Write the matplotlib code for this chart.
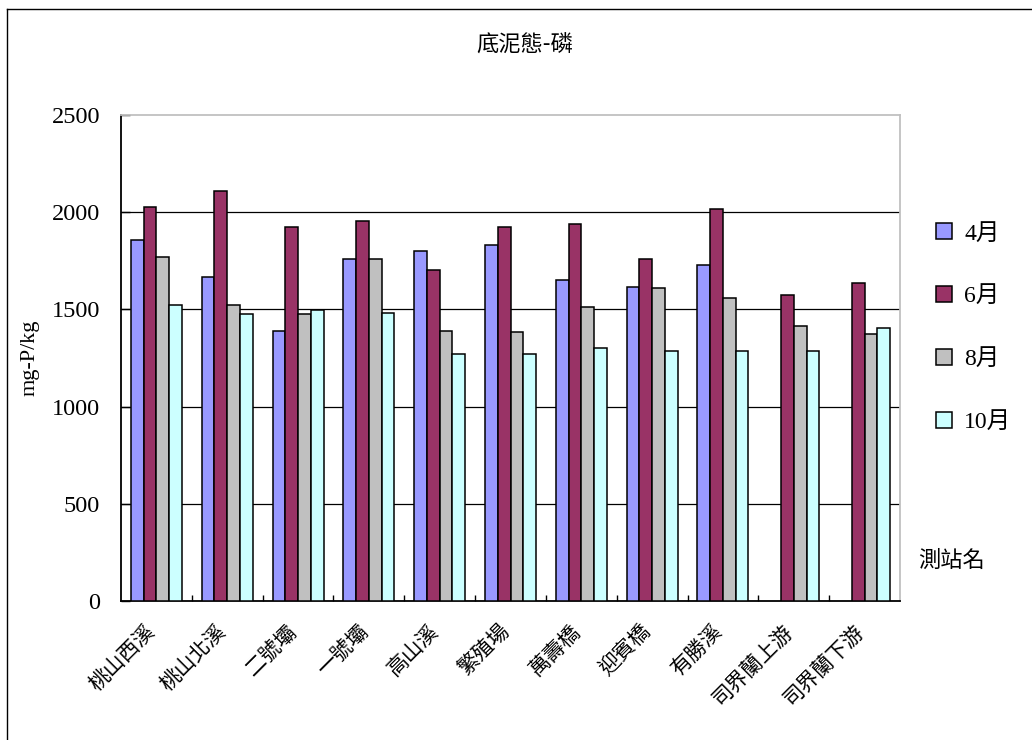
"""
底泥態-磷 grouped bar chart, saved as out.png (1032x740).
"""

import matplotlib
matplotlib.use("Agg")
import matplotlib.pyplot as plt
import matplotlib.transforms as mtransforms
from matplotlib.lines import Line2D
import numpy as np

# ---------------------------------------------------------------------------
# Data
# ---------------------------------------------------------------------------

stations = ["桃山西溪", "桃山北溪", "二號壩", "一號壩", "高山溪", "繁殖場",
            "萬壽橋", "迎賓橋", "有勝溪", "司界蘭上游", "司界蘭下游"]
months = ["4月", "6月", "8月", "10月"]

apr = [1855, 1668, 1390, 1761, 1802, 1833, 1649, 1617, 1730, np.nan, np.nan]
jun = [2028, 2111, 1925, 1956, 1701, 1925, 1937, 1761, 2016, 1576, 1637]
aug = [1771, 1524, 1475, 1761, 1390, 1383, 1514, 1608, 1557, 1415, 1372]
octo = [1524, 1475, 1495, 1483, 1270, 1269, 1300, 1288, 1288, 1288, 1403]

y_ticks = [0, 500, 1000, 1500, 2000, 2500]

# ---------------------------------------------------------------------------
# Style
# ---------------------------------------------------------------------------

COLORS = ["#9999ff", "#993366", "#c0c0c0", "#ccffff"]
SERIF = ["Liberation Serif", "Noto Sans CJK TC"]
CJK = ["Noto Sans CJK TC", "DejaVu Sans"]

plt.rcParams["font.family"] = SERIF

fig = plt.figure(figsize=(10.32, 7.4), dpi=100, facecolor="white")
ax = fig.add_axes([121 / 1032, 1 - 601 / 740, 779 / 1032, 486 / 740])

x = np.arange(len(stations))
w = 0.18
series = [apr, jun, aug, octo]
for k, (vals, col, lab) in enumerate(zip(series, COLORS, months)):
    ax.bar(x + (k - 1.5) * w, vals, width=w, color=col, edgecolor="black",
           linewidth=1.1, label=lab, zorder=3)

for yv in y_ticks[1:-1]:
    ax.axhline(yv, color="black", linewidth=0.9, zorder=1)

ax.set_xlim(-0.5, len(stations) - 0.5)
ax.set_ylim(0, 2500)
ax.set_yticks(y_ticks)
ax.tick_params(axis="y", direction="in", length=6.5, width=1, pad=15,
               labelsize=17.5)
ax.set_xticks(x)
ax.set_xticklabels(stations, rotation=45, ha="right", rotation_mode="anchor",
                   fontsize=15, family=CJK)
ax.tick_params(axis="x", length=0, pad=14)
shift = mtransforms.ScaledTranslation(-12 / 100, 0, fig.dpi_scale_trans)
for lbl in ax.get_xticklabels():
    lbl.set_transform(lbl.get_transform() + shift)
ax.set_xticks(np.arange(len(stations) - 1) + 0.5, minor=True)
ax.tick_params(axis="x", which="minor", direction="in", length=4.5, width=1)

for side in ["top", "right"]:
    ax.spines[side].set_color("#c0c0c0")
    ax.spines[side].set_linewidth(1.3)
for side in ["left", "bottom"]:
    ax.spines[side].set_color("black")
    ax.spines[side].set_linewidth(1.3)

# ---------------------------------------------------------------------------
# Texts, legend and frame
# ---------------------------------------------------------------------------

fig.text(525 / 1032, 1 - 45 / 740, "底泥態-磷", ha="center", va="center",
         fontsize=16, family=CJK)
fig.text(30 / 1032, 1 - 358 / 740, "mg-P/kg", rotation=90, ha="center",
         va="center", fontsize=16)
fig.text(918 / 1032, 1 - 560 / 740, "測站名", ha="left", va="center",
         fontsize=16, family=CJK)

fig.legend(loc="center left", bbox_to_anchor=(924 / 1032, 1 - 328 / 740),
           frameon=False, fontsize=17, handlelength=0.7, handleheight=0.7,
           handletextpad=0.5, labelspacing=1.75, borderpad=0)

fig.add_artist(Line2D([7 / 1032, 7 / 1032], [0, 1 - 9 / 740],
                      transform=fig.transFigure, color="black", linewidth=1))
fig.add_artist(Line2D([7 / 1032, 1], [1 - 9 / 740, 1 - 9 / 740],
                      transform=fig.transFigure, color="black", linewidth=1))

fig.savefig("out.png", dpi=100, facecolor="white")
